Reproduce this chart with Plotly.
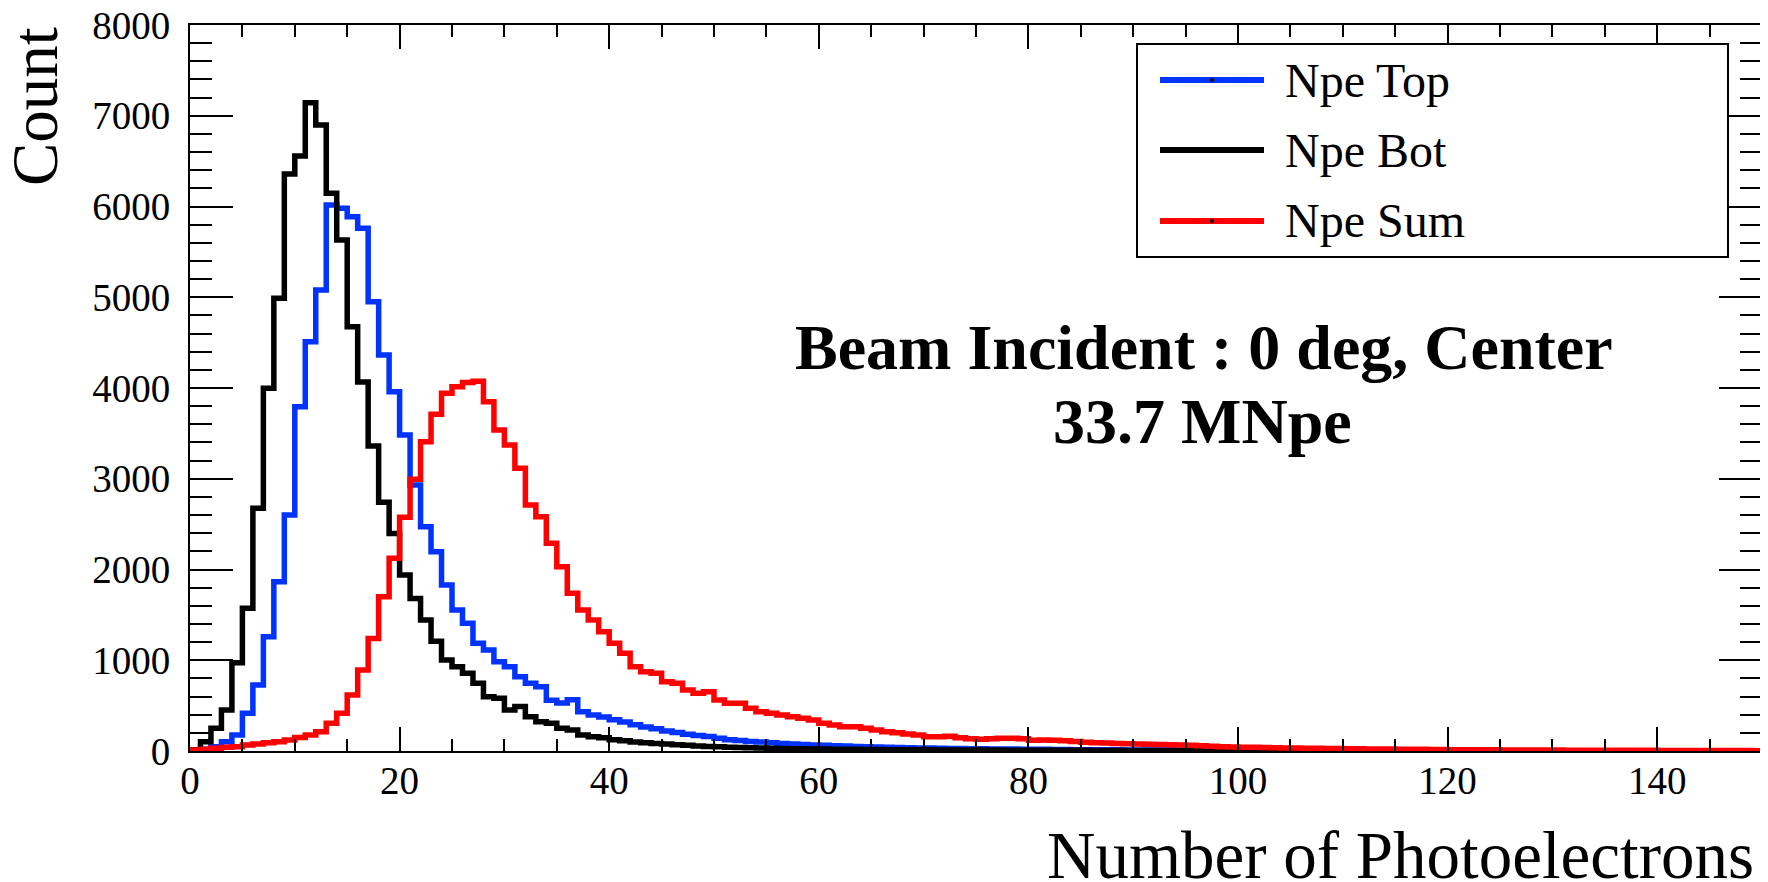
import numpy as np
import plotly.graph_objects as go

# ---------------- data ----------------
bin_edges = np.arange(0, 151, 1)          # 1-pe wide bins, 0 .. 150

npe_top = [5, 20, 48, 103, 176, 415, 727, 1260, 1866, 2600,
           3794, 4510, 5080, 6016, 5980, 5888, 5759, 4951, 4364, 3959,
           3482, 2931, 2472, 2196, 1829, 1554, 1407, 1186, 1113, 984,
           929, 819, 746, 709, 560, 530, 565, 433, 397, 375,
           345, 320, 290, 265, 245, 220, 205, 185, 170, 160,
           140, 125, 115, 105, 98, 90, 84, 78, 72, 66,
           62, 58, 54, 50, 47, 44, 41, 38, 36, 34,
           32, 30, 28, 27, 25, 24, 23, 22, 21, 20,
           19, 18, 17, 16, 15, 15, 14, 13, 13, 12,
           12, 11, 11, 10, 10, 9, 9, 9, 8, 8,
           8, 7, 7, 7, 6, 6, 6, 6, 5, 5,
           5, 5, 5, 4, 4, 4, 4, 4, 3, 3,
           3, 3, 3, 3, 3, 2, 2, 2, 2, 2,
           2, 2, 2, 2, 1, 1, 1, 1, 1, 1,
           1, 1, 1, 1, 1, 1, 1, 1, 0, 1]

npe_bot = [15, 103, 250, 452, 973, 1572, 2674, 3996, 4988, 6358,
           6556, 7144, 6898, 6145, 5631, 4676, 4065, 3360, 2740, 2398,
           1940, 1680, 1443, 1210, 1003, 929, 856, 746, 599, 580,
           452, 489, 378, 323, 305, 250, 231, 176, 158, 145,
           125, 112, 100, 92, 84, 76, 68, 62, 56, 50,
           46, 42, 39, 36, 33, 30, 28, 26, 24, 22,
           21, 20, 19, 18, 17, 16, 15, 15, 14, 13,
           13, 12, 12, 11, 11, 10, 10, 9, 9, 9,
           8, 8, 8, 7, 7, 7, 6, 6, 6, 6,
           5, 5, 5, 5, 4, 4, 4, 4, 4, 3,
           3, 3, 3, 3, 3, 3, 3, 2, 2, 2,
           2, 2, 2, 2, 2, 2, 2, 2, 1, 1,
           1, 1, 1, 1, 1, 1, 1, 1, 1, 1,
           1, 1, 1, 1, 1, 1, 0, 0, 1, 0,
           0, 0, 0, 0, 0, 0, 0, 0, 0, 0]

npe_sum = [10, 18, 29, 40, 48, 66, 77, 92, 103, 121,
           150, 176, 213, 305, 415, 617, 893, 1241, 1701, 2123,
           2575, 2995, 3409, 3710, 3941, 4015, 4060, 4075, 3849, 3537,
           3372, 3115, 2711, 2582, 2288, 2031, 1737, 1554, 1443, 1315,
           1186, 1076, 929, 874, 856, 764, 746, 672, 635, 654,
           562, 525, 525, 470, 433, 415, 397, 378, 360, 342,
           305, 286, 268, 268, 250, 231, 213, 202, 187, 176,
           158, 158, 162, 145, 135, 130, 135, 140, 140, 136,
           118, 122, 118, 112, 104, 96, 90, 87, 84, 80,
           77, 75, 72, 70, 67, 62, 58, 53, 48, 45,
           42, 40, 38, 36, 34, 32, 30, 29, 28, 27,
           25, 24, 23, 22, 21, 20, 19, 18, 17, 16,
           15, 15, 14, 13, 13, 12, 12, 11, 11, 10,
           10, 9, 9, 9, 8, 8, 8, 7, 7, 7,
           6, 6, 6, 6, 5, 5, 5, 5, 5, 4]

series_names = ["Npe Top", "Npe Bot", "Npe Sum"]
series_colors = ["#0033ff", "#000000", "#ff0000"]
series_values = [npe_top, npe_bot, npe_sum]

x_tick_vals = [0, 20, 40, 60, 80, 100, 120, 140]
y_tick_vals = [0, 1000, 2000, 3000, 4000, 5000, 6000, 7000, 8000]
x_title = "Number of Photoelectrons"
y_title = "Count"
note_lines = ["Beam Incident : 0 deg, Center", "33.7 MNpe"]

# ---------------- geometry (page pixels) ----------------
PAGE_OFFSET = 8                      # default body margin of the html page
PAGE_W, PAGE_H = 1768, 882
W, H = PAGE_W - PAGE_OFFSET, PAGE_H - PAGE_OFFSET
L, R, T, B = 190, 1762, 25, 751      # plot area in page pixels


def pxx(x):
    return (x - L) / (R - L)


def pxy(y):
    return (B - y) / (B - T)


SERIF = "Liberation Serif"

fig = go.Figure()
for name, vals, col in zip(series_names, series_values, series_colors):
    fig.add_trace(go.Scatter(
        x=bin_edges, y=list(vals) + [vals[-1]],
        mode="lines", name=name, showlegend=False, hoverinfo="skip",
        line=dict(color=col, width=5.5, shape="hv")))

axis_common = dict(showline=True, linecolor="black", linewidth=2,
                   mirror="allticks", ticks="inside", tickcolor="black",
                   tickwidth=2, showgrid=False, zeroline=False,
                   automargin=False, ticklabeloverflow="allow",
                   tickfont=dict(family=SERIF, size=39, color="black"))

fig.update_xaxes(range=[0, 150], tickmode="array", tickvals=x_tick_vals,
                 ticktext=[str(v) for v in x_tick_vals], ticklen=24,
                 ticklabelstandoff=-6,
                 minor=dict(tick0=0, dtick=5, ticklen=12, ticks="inside",
                            tickcolor="black", tickwidth=2, showgrid=False),
                 **axis_common)
fig.update_yaxes(range=[0, 8000], tickmode="array", tickvals=y_tick_vals,
                 ticktext=[str(v) for v in y_tick_vals], ticklen=43,
                 ticklabelstandoff=10,
                 minor=dict(tick0=0, dtick=200, ticklen=22, ticks="inside",
                            tickcolor="black", tickwidth=2, showgrid=False),
                 **axis_common)

shapes = []
annotations = []

# legend box (drawn like the ROOT TLegend)
shapes.append(dict(type="rect", xref="paper", yref="paper",
                   x0=pxx(1137), x1=pxx(1728), y0=pxy(257), y1=pxy(44),
                   line=dict(color="black", width=2), fillcolor="white"))
row_y = [80, 150, 221]
for name, col, ry in zip(series_names, series_colors, row_y):
    shapes.append(dict(type="line", xref="paper", yref="paper",
                       x0=pxx(1160), x1=pxx(1264), y0=pxy(ry), y1=pxy(ry),
                       line=dict(color=col, width=6)))
    shapes.append(dict(type="circle", xref="paper", yref="paper",
                       x0=pxx(1210), x1=pxx(1214), y0=pxy(ry + 2), y1=pxy(ry - 2),
                       line=dict(color="black", width=0), fillcolor="black"))
    annotations.append(dict(text=name, xref="paper", yref="paper",
                            x=pxx(1283), y=pxy(ry), xanchor="left", yanchor="middle",
                            showarrow=False,
                            font=dict(family=SERIF, size=48, color="black")))

# text note
annotations.append(dict(text=note_lines[0], xref="paper", yref="paper",
                        x=pxx(1204), y=pxy(347), xanchor="center", yanchor="middle",
                        showarrow=False,
                        font=dict(family=SERIF, size=64, color="black", weight="bold")))
annotations.append(dict(text=note_lines[1], xref="paper", yref="paper",
                        x=pxx(1202), y=pxy(422), xanchor="center", yanchor="middle",
                        showarrow=False,
                        font=dict(family=SERIF, size=64, color="black", weight="bold")))

# axis titles (ROOT style: aligned to the axis end)
annotations.append(dict(text=y_title, xref="paper", yref="paper",
                        x=pxx(35), y=pxy(107), xanchor="center", yanchor="middle",
                        textangle=-90, showarrow=False,
                        font=dict(family=SERIF, size=65, color="black")))
annotations.append(dict(text=x_title, xref="paper", yref="paper",
                        x=pxx(1756), y=pxy(855), xanchor="right", yanchor="middle",
                        showarrow=False,
                        font=dict(family=SERIF, size=67, color="black")))

fig.update_layout(width=W, height=H,
                  margin=dict(l=L - PAGE_OFFSET, r=PAGE_W - R, t=T - PAGE_OFFSET,
                              b=PAGE_H - B, pad=0),
                  paper_bgcolor="white", plot_bgcolor="white",
                  showlegend=False, shapes=shapes, annotations=annotations)

fig.write_html("out.html")
